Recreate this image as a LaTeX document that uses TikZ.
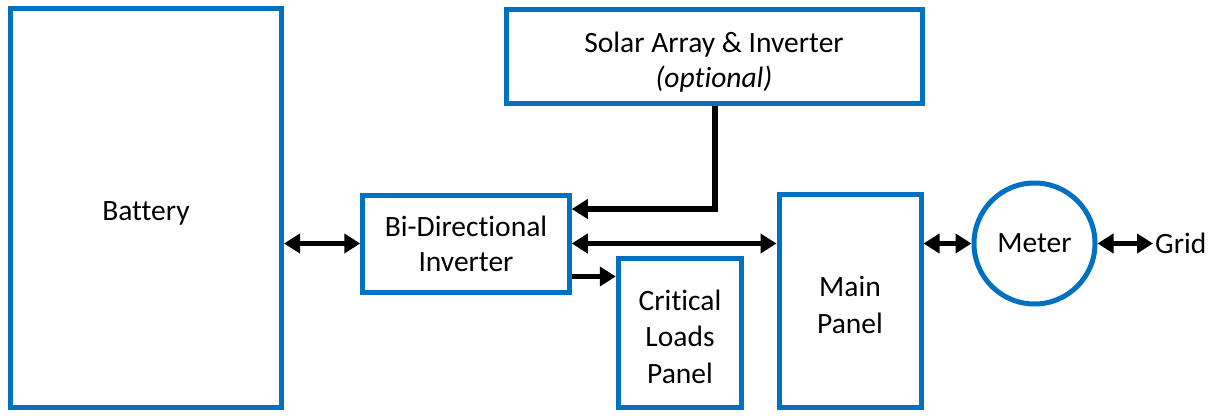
\documentclass[tikz,border=0pt]{standalone}
\usepackage{fontspec}
\setmainfont[Ligatures=NoCommon]{Carlito}
\usetikzlibrary{arrows.meta}
\definecolor{boxblue}{HTML}{0070C0}
\begin{document}
\begin{tikzpicture}[x=1pt,y=-1pt,
  every node/.style={font=\fontsize{29.5}{35}\selectfont, text=black},
  block/.style={draw=boxblue, line width=5pt, rectangle, inner sep=0pt, align=center},
  meterbox/.style={draw=boxblue, line width=5pt, circle, inner sep=0pt, align=center},
  caption/.style={align=center},
  widecaption/.style={align=center, font=\fontsize{29.5}{36.5}\selectfont},
  link/.style={line width=5.5pt, black},
  twoway/.style={link, {Triangle[length=16pt,width=19pt]}-{Triangle[length=16pt,width=19pt]}},
  oneway/.style={link, -{Triangle[length=16pt,width=19pt]}}
]
\useasboundingbox (0,0) rectangle (1215,415);

% boxes
\node[block, minimum width=271pt, minimum height=399pt] (bat) at (146,208) {};
\node[block, minimum width=416pt, minimum height=94pt] (sol) at (714,56) {};
\node[block, minimum width=206.5pt, minimum height=97pt] (inv) at (466,243.5)
  {Bi-Directional\\Inverter};
\node[block, minimum width=123.5pt, minimum height=148.5pt] (crit) at (680,333) {};
\node[block, minimum width=142pt, minimum height=212.5pt] (main) at (850,301) {};
\node[meterbox, minimum size=121pt] (met) at (1034.5,243.5) {Meter};
\node[anchor=west, inner sep=2pt] (grid) at (1153,243.5) {Grid};

% box captions
\node (batlabel) at (146,213) {Battery};
\node[caption] (sollabel) at (714,62) {Solar Array \& Inverter\\\textit{(optional)}};
\node[widecaption] (critlabel) at (680,336.5) {Critical\\Loads\\Panel};
\node[widecaption] (mainlabel) at (850,305) {Main\\Panel};

% battery <-> inverter
\draw[twoway] (bat.east |- inv.west) -- (inv.west);
% solar feed into the inverter
\coordinate (solin) at ([yshift=34.5pt]inv.east);
\draw[oneway] ([xshift=1pt]sol.south) |- (solin);
% inverter <-> main panel
\draw[twoway] (inv.east) -- (inv.east -| main.west);
% inverter -> critical loads
\coordinate (critout) at ([yshift=-33pt]inv.east);
\draw[oneway] (critout) -- (critout -| crit.west);
% main panel <-> meter <-> grid
\draw[twoway] (main.east |- met.west) -- (met.west);
\draw[twoway] (met.east) -- (grid.west);
\end{tikzpicture}
\end{document}
